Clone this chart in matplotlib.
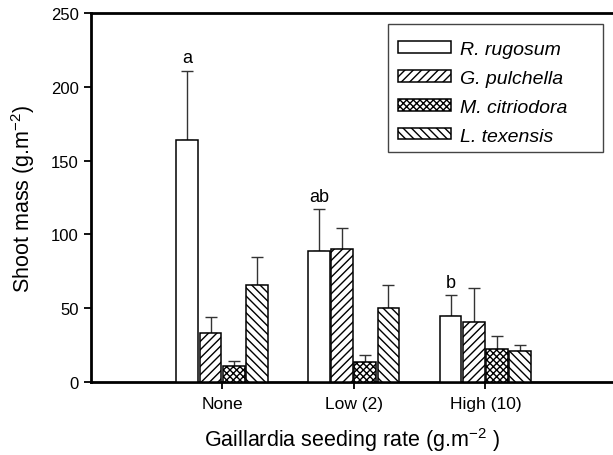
import matplotlib
matplotlib.use("Agg")
import matplotlib.pyplot as plt
from matplotlib.patches import Rectangle
import numpy as np

plt.rcParams['font.family'] = ['Liberation Sans', 'DejaVu Sans']
plt.rcParams['mathtext.fontset'] = 'custom'
plt.rcParams['mathtext.rm'] = 'Liberation Sans'
plt.rcParams['mathtext.it'] = 'Liberation Sans:italic'
plt.rcParams['hatch.linewidth'] = 1.0

categories = ["None", "Low (2)", "High (10)"]
species = ["R. rugosum", "G. pulchella", "M. citriodora", "L. texensis"]
means = {
    "R. rugosum":    [164, 88.8, 44.5],
    "G. pulchella":  [33, 90.4, 40.6],
    "M. citriodora": [11, 13.8, 22.2],
    "L. texensis":   [66, 50.2, 21.1],
}
upper = {
    "R. rugosum":    [211, 117, 58.8],
    "G. pulchella":  [44, 104.4, 63.4],
    "M. citriodora": [14, 18.6, 30.9],
    "L. texensis":   [85, 65.4, 25.4],
}
letters = ["a", "ab", "b"]
hatches = ["", "////", "xxxxx", "\\\\\\\\"]

fig = plt.figure(figsize=(6.13, 4.56), dpi=100)
ax = fig.add_axes([91/613, 1-383/456, 1-91/613, (383-14)/456])

x = np.arange(len(categories))
width = 0.165
offsets = [-0.264, -0.088, 0.088, 0.264]
for i, sp in enumerate(species):
    m = np.array(means[sp])
    err = np.array(upper[sp]) - m
    ax.bar(x + offsets[i], m, width, color="white", edgecolor="black",
           linewidth=1.1, hatch=hatches[i], label=sp, zorder=3)
    ax.errorbar(x + offsets[i], m, yerr=[np.zeros_like(err), err], fmt="none",
                ecolor="#333333", elinewidth=1.0, capsize=4.5, capthick=1.0, zorder=2)

for j, lt in enumerate(letters):
    ax.text(x[j] + offsets[0], upper["R. rugosum"][j] + 3, lt, ha="center",
            va="bottom", fontsize=13)

ax.set_xlim(-0.996, 2.97)
ax.set_ylim(0, 250)
ax.set_yticks([0, 50, 100, 150, 200, 250])
ax.set_xticks(x)
ax.set_xticklabels(categories, fontsize=12.5)
ax.tick_params(axis="y", direction="out", length=5, width=1.3, labelsize=12, pad=4)
ax.tick_params(axis="x", direction="out", length=5, width=1.3, pad=5)
ax.spines["right"].set_visible(False)
for s in ["left", "top", "bottom"]:
    ax.spines[s].set_linewidth(2)

ax.set_ylabel("Shoot mass (g.m$^{-2}$)", fontsize=15.5, labelpad=10)
ax.set_xlabel("Gaillardia seeding rate (g.m$^{-2}$ )", fontsize=15.5, labelpad=10)

# legend frame (wider than the content, as in the reference)
ax.add_patch(Rectangle((0.569, 0.623), 0.981 - 0.569, 0.970 - 0.623,
                       transform=ax.transAxes, facecolor="white",
                       edgecolor="#444444", linewidth=1.0, zorder=4))
leg = ax.legend(loc="upper left", bbox_to_anchor=(0.588, 0.924), borderaxespad=0,
                frameon=False, prop={"style": "italic", "size": 14},
                handlelength=2.73, handleheight=0.52, labelspacing=0.61,
                borderpad=0, handletextpad=0.45)
leg.set_zorder(5)

fig.savefig("out.png", dpi=100)
